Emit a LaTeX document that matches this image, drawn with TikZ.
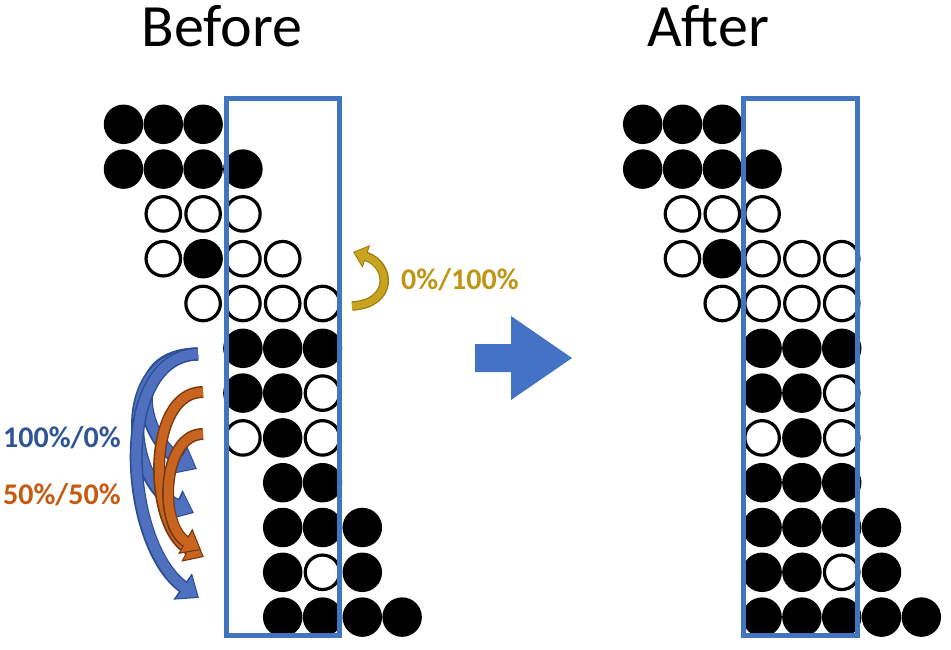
\documentclass[tikz,border=0pt]{standalone}
\usepackage{fontspec}
\setmainfont{Carlito}
\usetikzlibrary{arrows.meta}

\definecolor{boxblue}{RGB}{66,117,192}
\definecolor{bigblue}{RGB}{68,114,196}
\definecolor{arcblue}{RGB}{78,112,190}
\definecolor{arcblueedge}{RGB}{45,78,148}
\definecolor{arcbrown}{RGB}{200,100,32}
\definecolor{arcbrownedge}{RGB}{118,58,16}
\definecolor{arcgold}{RGB}{200,163,32}
\definecolor{arcgoldedge}{RGB}{158,124,14}
\definecolor{txtblue}{RGB}{47,85,151}
\definecolor{txtbrown}{RGB}{197,90,17}
\definecolor{txtgold}{RGB}{191,150,20}

\begin{document}
\begin{tikzpicture}[x=1pt,y=-1pt]
	\tikzset{
		dotF/.style={circle, fill=black, minimum size=39.5pt, inner sep=0pt},
		dotE/.style={circle, draw=black, line width=3.2pt, minimum size=34.5pt, inner sep=0pt},
		window/.style={draw=boxblue, line width=5pt},
		title/.style={font=\fontsize{60}{60}\selectfont, anchor=base, inner sep=0pt},
		share/.style={font=\fontsize{30}{30}\selectfont\bfseries, anchor=west, inner sep=0pt},
		bluearc/.style={draw=arcblueedge, line width=13pt, -{Triangle[length=20pt,width=31pt]},
			postaction={draw=arcblue, line width=10pt, shorten >=1.8pt, -{Triangle[length=16.5pt,width=26pt]}}},
		brownarc/.style={draw=arcbrownedge, line width=12pt, -{Triangle[length=18pt,width=28pt]},
			postaction={draw=arcbrown, line width=9pt, shorten >=1.8pt, -{Triangle[length=15pt,width=23pt]}}},
		goldarc/.style={draw=arcgoldedge, line width=9.5pt, -{Triangle[length=14pt,width=23pt]},
			postaction={draw=arcgold, line width=7pt, shorten >=1.5pt, -{Triangle[length=11.5pt,width=19pt]}}}
	}
	\useasboundingbox (0,0) rectangle (951,650);

	\draw node[title] (before) at (222,47) {Before};
	\draw node[title] (after) at (708,47) {After};

	% before: row / column:type
	\foreach \r/\cells in {1/{0/F,1/F,2/F}, 2/{0/F,1/F,2/F,3/F}, 3/{1/E,2/E,3/E},
		4/{1/E,2/F,3/E,4/E}, 5/{2/E,3/E,4/E,5/E}, 6/{3/F,4/F,5/F}, 7/{3/F,4/F,5/E},
		8/{3/E,4/F,5/E}, 9/{4/F,5/F}, 10/{4/F,5/F,6/F}, 11/{4/F,5/E,6/F}, 12/{4/F,5/F,6/F,7/F}}{
		\foreach \c/\t in \cells{
			\draw node[dot\t] (b\r-\c) at ({123.5+39.8*\c},{124.3+44.8*(\r-1)}) {};
		}
	}
	% after
	\foreach \r/\cells in {1/{0/F,1/F,2/F}, 2/{0/F,1/F,2/F,3/F}, 3/{1/E,2/E,3/E},
		4/{1/E,2/F,3/E,4/E,5/E}, 5/{2/E,3/E,4/E,5/E}, 6/{3/F,4/F,5/F}, 7/{3/F,4/F,5/E},
		8/{3/E,4/F,5/E}, 9/{3/F,4/F,5/F}, 10/{3/F,4/F,5/F,6/F}, 11/{3/F,4/F,5/E,6/F}, 12/{3/F,4/F,5/F,6/F,7/F}}{
		\foreach \c/\t in \cells{
			\draw node[dot\t] (a\r-\c) at ({642.7+39.8*\c},{124.3+44.8*(\r-1)}) {};
		}
	}

	\draw[window] (226.5,98.5) rectangle (339.5,635.5);
	\draw[window] (743,98.5) rectangle (857.5,635.5);

	% moves
	\coordinate (bs) at (198,354);
	\coordinate (os1) at (203,392);
	\coordinate (os2) at (203,434);
	\coordinate (gs) at (352,306);
	\draw[bluearc] (bs) .. controls (122,354) and (142,440) .. (197,469);
	\draw[bluearc] (bs) .. controls (116,354) and (126,482) .. (194,513);
	\draw[bluearc] (bs) .. controls (112,356) and (124,545) .. (199,598);
	\draw[brownarc] (os1) .. controls (146,392) and (148,528) .. (204,557);
	\draw[brownarc] (os2) .. controls (162,434) and (158,526) .. (201,550);
	\draw[goldarc] (gs) .. controls (393,304) and (392,265) .. (353,252);

	\draw node[share, text=txtgold] (lgold) at (401,280) {0\%/100\%};
	\draw node[share, text=txtblue] (lblue) at (3,438) {100\%/0\%};
	\draw node[share, text=txtbrown] (lbrown) at (3,495) {50\%/50\%};

	\fill[bigblue] (475,344) -- (511,344) -- (511,316) -- (572,358) -- (511,400) -- (511,372) -- (475,372) -- cycle;
\end{tikzpicture}
\end{document}
